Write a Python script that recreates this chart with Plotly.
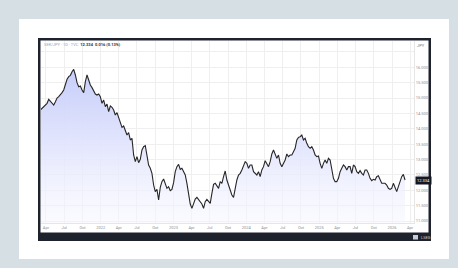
import pandas as pd
import plotly.graph_objects as go

# ---- data ----
start_date = "2021-03-04"
end_date = "2026-03-07"
prices = [
    14.612, 14.666, 14.720, 14.742, 14.829, 14.959, 14.905, 14.829, 14.775, 14.883,
    15.002, 15.046, 15.100, 15.176, 15.263, 15.479, 15.610, 15.696, 15.740, 15.859,
    15.935, 15.751, 15.501, 15.371, 15.393, 15.263, 15.176, 15.534, 15.751, 15.588,
    15.425, 15.339, 15.208, 15.132, 15.100, 15.132, 15.046, 14.829, 14.937, 14.720,
    14.807, 14.558, 14.742, 14.699, 14.612, 14.449, 14.525, 14.341, 14.232, 14.048,
    14.091, 13.939, 13.798, 13.874, 13.636, 13.690, 13.148, 12.931, 13.093, 12.898,
    13.007, 13.310, 13.419, 13.451, 13.148, 12.822, 12.714, 12.551, 12.171, 11.955,
    12.030, 11.683, 12.096, 12.280, 12.367, 12.171, 12.063, 12.117, 11.987, 12.030,
    12.247, 12.605, 12.768, 12.844, 12.681, 12.714, 12.573, 12.497, 12.226, 11.846,
    11.553, 11.412, 11.597, 11.716, 11.770, 11.683, 11.629, 11.553, 11.412, 11.629,
    11.705, 11.629, 11.575, 11.900, 12.193, 12.226, 12.117, 12.063, 12.280, 12.226,
    12.443, 12.627, 12.334, 12.171, 12.063, 11.846, 11.770, 12.117, 12.334, 12.497,
    12.551, 12.660, 12.790, 12.931, 12.876, 12.714, 12.822, 12.822, 12.605, 12.551,
    12.497, 12.605, 12.443, 12.660, 12.768, 12.963, 12.876, 12.768, 12.931, 13.180,
    13.310, 13.202, 13.039, 13.148, 12.876, 12.768, 12.876, 12.985, 13.180, 13.093,
    13.148, 13.148, 13.256, 13.365, 13.636, 13.722, 13.744, 13.798, 13.636, 13.690,
    13.527, 13.419, 13.365, 13.419, 13.310, 13.148, 13.093, 13.115, 12.876, 12.714,
    12.876, 12.985, 12.876, 13.039, 12.985, 12.660, 12.388, 12.280, 12.280, 12.388,
    12.605, 12.714, 12.822, 12.768, 12.660, 12.768, 12.768, 12.551, 12.822, 12.768,
    12.605, 12.551, 12.638, 12.551, 12.497, 12.660, 12.660, 12.551, 12.388, 12.312,
    12.356, 12.334, 12.443, 12.475, 12.334, 12.226, 12.226, 12.226, 12.171, 12.063,
    12.030, 12.063, 12.226, 12.117, 11.955, 12.117, 12.280, 12.443, 12.518, 12.334,
]
dates = pd.date_range(start_date, end_date, periods=len(prices))

x_tick_dates = ["2021-04-01", "2021-07-01", "2021-10-01", "2022-01-01", "2022-04-01",
                "2022-07-01", "2022-10-01", "2023-01-01", "2023-04-01", "2023-07-01",
                "2023-10-01", "2024-01-01", "2024-04-01", "2024-07-01", "2024-10-01",
                "2025-01-01", "2025-04-01", "2025-07-01", "2025-10-01", "2026-01-01",
                "2026-04-01"]
x_tick_labels = ["Apr", "Jul", "Oct", "2022", "Apr", "Jul", "Oct", "2023", "Apr", "Jul",
                 "Oct", "2024", "Apr", "Jul", "Oct", "2025", "Apr", "Jul", "Oct", "2026",
                 "Apr"]
y_tick_values = [16.5, 16.0, 15.5, 15.0, 14.5, 14.0, 13.5, 13.0, 12.5, 12.0, 11.5, 11.0]
y_tick_labels = ["", "16.000", "15.500", "15.000", "14.500", "14.000", "13.500",
                 "13.000", "12.500", "12.000", "11.500", "11.000"]

title_grey = "SEK/JPY · 1D · TVC"
title_dark = "12.334  0.016 (0.13%)"
currency = "JPY"
source = "LSEG"

# ---- layout geometry ----
W, H = 458, 268
ML, MR, MT, MB = 41, 44, 41, 45
PW, PH = W - ML - MR, H - MT - MB


def px_x(p):
    return (p - ML) / PW


def px_y(p):
    return (H - MB - p) / PH


fig = go.Figure()
fig.add_trace(go.Scatter(
    x=dates, y=prices, mode="lines",
    line=dict(color="#262626", width=1.1),
    fill="tozeroy",
    fillgradient=dict(type="vertical", start=10.9, stop=16.0,
                      colorscale=[[0, "rgba(246,247,255,0.5)"],
                                  [0.5, "rgba(226,229,253,0.95)"],
                                  [1, "rgba(198,205,249,1)"]]),
    hoverinfo="skip", showlegend=False,
))

shapes = [
    dict(type="rect", xref="paper", yref="paper", layer="below",
         x0=px_x(19), x1=px_x(449), y0=px_y(19), y1=px_y(259),
         fillcolor="white", line=dict(width=0)),
    dict(type="rect", xref="paper", yref="paper", layer="below",
         x0=px_x(38), x1=px_x(431), y0=px_y(38), y1=px_y(241),
         fillcolor="#1e222d", line=dict(width=0)),
    dict(type="rect", xref="paper", yref="paper", layer="below",
         x0=px_x(40.5), x1=px_x(428.5), y0=px_y(40.5), y1=px_y(232.5),
         fillcolor="white", line=dict(width=0)),
    dict(type="rect", xref="paper", yref="paper", layer="above",
         x0=px_x(413), x1=px_x(418), y0=px_y(235), y1=px_y(239.5),
         fillcolor="#c8ccd6", line=dict(width=0)),
]

annotations = [
    dict(xref="paper", yref="paper", x=px_x(42), y=px_y(44.5), xanchor="left",
         yanchor="middle", showarrow=False,
         text=f"<span style='color:#a0a4ad'>{title_grey}</span>  "
              f"<b><span style='color:#333'>{title_dark}</span></b>",
         font=dict(size=4, family="Roboto")),
    dict(xref="paper", yref="paper", x=px_x(421), y=px_y(45.5), xanchor="center",
         yanchor="middle", showarrow=False, text=currency,
         font=dict(size=4, color="#777", family="Roboto")),
    dict(xref="paper", yref="y", x=px_x(415), y=prices[-1], xanchor="left",
         yanchor="middle", showarrow=False, text=f"{prices[-1]:.3f}",
         bgcolor="#131722", borderpad=1,
         font=dict(size=4, color="white", family="Roboto")),
    dict(xref="paper", yref="paper", x=px_x(419), y=px_y(237.3), xanchor="left",
         yanchor="middle", showarrow=False, text=source,
         font=dict(size=4, color="#c8ccd6", family="Roboto")),
]

fig.update_layout(
    width=W, height=H,
    margin=dict(l=ML, r=MR, t=MT, b=MB, pad=0),
    paper_bgcolor="#d6dfe3",
    plot_bgcolor="white",
    shapes=shapes,
    annotations=annotations,
    font=dict(family="Roboto", size=4, color="#8a8e97"),
    xaxis=dict(
        range=["2021-03-07", "2026-04-21"],
        tickvals=x_tick_dates, ticktext=x_tick_labels,
        showgrid=True, gridcolor="#efefef", gridwidth=1,
        showline=True, linecolor="#e6e6e6", linewidth=1,
        ticks="", tickfont=dict(size=4, color="#8a8e97"),
        zeroline=False, fixedrange=True,
    ),
    yaxis=dict(
        side="right",
        range=[10.935, 16.857],
        tickvals=y_tick_values, ticktext=y_tick_labels,
        showgrid=True, gridcolor="#efefef", gridwidth=1,
        showline=True, linecolor="#e6e6e6", linewidth=1,
        ticks="", tickfont=dict(size=4, color="#8a8e97"),
        zeroline=False, fixedrange=True,
    ),
)

fig.write_html(
    "out.html",
    config={"displayModeBar": False},
    post_script="document.body.style.margin='0';document.body.style.padding='0';"
                "document.documentElement.style.overflow='hidden';",
)
